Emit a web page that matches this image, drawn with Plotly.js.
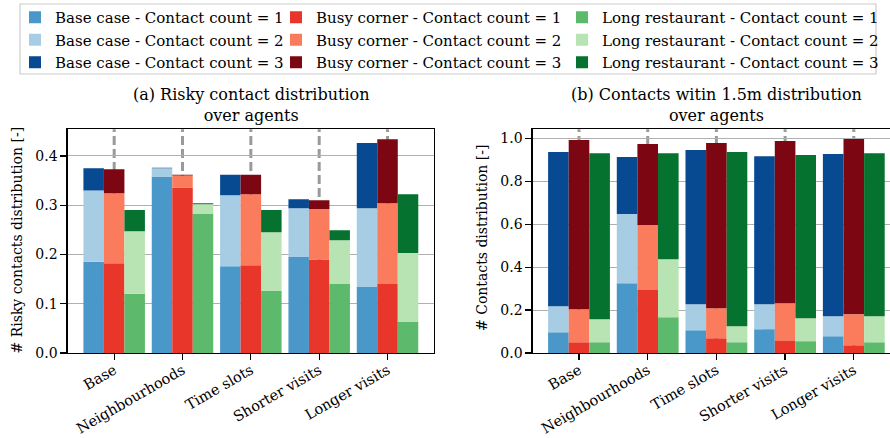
<!DOCTYPE html>
<html>
<head>
<meta charset="utf-8">
<script src="https://cdn.plot.ly/plotly-3.0.1.min.js"></script>
<style>html,body{margin:0;padding:0;background:#fff;}</style>
</head>
<body>
<div id="chart" style="width:890px;height:438px;"></div>
<script>
// ---- data ----
const categories = ['Base', 'Neighbourhoods', 'Time slots', 'Shorter visits', 'Longer visits'];
const scenarios = ['Base case', 'Busy corner', 'Long restaurant'];
const countLabels = ['1', '2', '3'];

// (a) Risky contact distribution over agents: share of agents per contact count
const riskyBase1 = [0.185, 0.357, 0.176, 0.195, 0.134];
const riskyBase2 = [0.145, 0.018, 0.144, 0.099, 0.160];
const riskyBase3 = [0.045, 0.001, 0.042, 0.018, 0.132];
const riskyBusy1 = [0.182, 0.336, 0.178, 0.190, 0.140];
const riskyBusy2 = [0.142, 0.024, 0.144, 0.102, 0.164];
const riskyBusy3 = [0.049, 0.002, 0.040, 0.018, 0.130];
const riskyLong1 = [0.120, 0.282, 0.126, 0.140, 0.063];
const riskyLong2 = [0.127, 0.020, 0.119, 0.089, 0.140];
const riskyLong3 = [0.043, 0.002, 0.045, 0.020, 0.119];

// (b) Contacts within 1.5m distribution over agents
const closeBase1 = [0.097, 0.325, 0.106, 0.111, 0.078];
const closeBase2 = [0.121, 0.322, 0.121, 0.116, 0.093];
const closeBase3 = [0.718, 0.266, 0.719, 0.690, 0.756];
const closeBusy1 = [0.050, 0.293, 0.069, 0.059, 0.036];
const closeBusy2 = [0.154, 0.303, 0.140, 0.173, 0.144];
const closeBusy3 = [0.788, 0.377, 0.769, 0.755, 0.817];
const closeLong1 = [0.050, 0.167, 0.050, 0.055, 0.050];
const closeLong2 = [0.107, 0.270, 0.075, 0.107, 0.121];
const closeLong3 = [0.774, 0.494, 0.811, 0.760, 0.760];

const riskyTicks = [0, 0.1, 0.2, 0.3, 0.4];
const closeTicks = [0, 0.2, 0.4, 0.6, 0.8, 1.0];

// ---- styling ----
const colors = [
  ['#4a98c9', '#a7cde4', '#084a91'],
  ['#e8362a', '#fb7c5c', '#7c0612'],
  ['#5db96b', '#b8e3b2', '#067230']
];
const offsets = [-0.45, -0.15, 0.15];
const barWidth = 0.3;
const FONT = 'DejaVu Serif';

const riskyData = [[riskyBase1, riskyBase2, riskyBase3], [riskyBusy1, riskyBusy2, riskyBusy3], [riskyLong1, riskyLong2, riskyLong3]];
const closeData = [[closeBase1, closeBase2, closeBase3], [closeBusy1, closeBusy2, closeBusy3], [closeLong1, closeLong2, closeLong3]];

const traces = [];
function addPanel(data, xa, ya, showLegend) {
  data.forEach((series, s) => {
    let base = categories.map(() => 0);
    series.forEach((vals, c) => {
      traces.push({
        type: 'bar',
        x: categories,
        y: vals,
        base: base.slice(),
        offset: offsets[s],
        width: barWidth,
        xaxis: xa, yaxis: ya,
        marker: {color: colors[s][c], line: {width: 0}},
        name: scenarios[s] + ' - Contact count = ' + countLabels[c],
        legendgroup: scenarios[s] + c,
        legend: ['legend', 'legend2', 'legend3'][s],
        showlegend: showLegend,
        hoverinfo: 'name+y'
      });
      base = base.map((b, i) => b + vals[i]);
    });
  });
}
addPanel(riskyData, 'x', 'y', true);
addPanel(closeData, 'x2', 'y2', false);

const W = 890, H = 438;
const px = v => v / W;
const py = v => (H - v) / H;

const shapes = [];
['x', 'x2'].forEach((xr, k) => {
  categories.forEach(c => {
    shapes.push({type: 'line', xref: xr, yref: (k === 0 ? 'y' : 'y2') + ' domain',
      x0: c, x1: c, y0: 0, y1: 1, layer: 'below',
      line: {color: '#9a9a9a', width: 3, dash: '9px,4px'}});
  });
});
// legend frame
shapes.push({type: 'rect', xref: 'paper', yref: 'paper', x0: px(20), x1: px(876), y0: py(4), y1: py(74),
  line: {color: '#cccccc', width: 1.2}, fillcolor: 'rgba(255,255,255,0.8)', layer: 'below'});

const axisCommon = {
  showline: true, linecolor: '#000', linewidth: 1.3,
  ticks: 'outside', ticklen: 6, tickwidth: 1.2, tickcolor: '#000',
  tickfont: {family: FONT, size: 14, color: '#000'},
  zeroline: false, fixedrange: true
};
const yDomain = [py(353), py(129.3)];

const legendCommon = {
  yanchor: 'top', xanchor: 'left', y: py(1),
  bgcolor: 'rgba(0,0,0,0)', borderwidth: 0,
  font: {family: FONT, size: 15, color: '#000'},
  tracegroupgap: 0, traceorder: 'grouped', orientation: 'v'
};

const layout = {
  width: W, height: H,
  margin: {l: 0, r: 0, t: 0, b: 0},
  paper_bgcolor: '#fff', plot_bgcolor: '#fff',
  barmode: 'overlay',
  font: {family: FONT, size: 14, color: '#000'},
  showlegend: true,
  legend: Object.assign({}, legendCommon, {x: px(15)}),
  legend2: Object.assign({}, legendCommon, {x: px(276)}),
  legend3: Object.assign({}, legendCommon, {x: px(562)}),
  xaxis: Object.assign({}, axisCommon, {
    domain: [px(67.7), px(434)], anchor: 'y', type: 'category',
    categoryorder: 'array', categoryarray: categories,
    range: [-0.68, 4.68], tickangle: -30, showgrid: false, mirror: true,
    tickfont: {family: FONT, size: 14.5, color: '#000'}, ticklabelstandoff: -4
  }),
  yaxis: Object.assign({}, axisCommon, {
    domain: yDomain, anchor: 'x', range: [0, 0.454],
    tickvals: riskyTicks, tickformat: '.1f',
    showgrid: true, gridcolor: '#b0b0b0', gridwidth: 1, mirror: true
  }),
  xaxis2: Object.assign({}, axisCommon, {
    domain: [px(532.7), 1], anchor: 'y2', type: 'category',
    categoryorder: 'array', categoryarray: categories,
    range: [-0.674, 4.527], tickangle: -30, showgrid: false, mirror: true,
    tickfont: {family: FONT, size: 14.5, color: '#000'}, ticklabelstandoff: -4
  }),
  yaxis2: Object.assign({}, axisCommon, {
    domain: yDomain, anchor: 'x2', range: [0, 1.042],
    tickvals: closeTicks, tickformat: '.1f',
    showgrid: true, gridcolor: '#b0b0b0', gridwidth: 1, mirror: false
  }),
  shapes: shapes,
  annotations: [
    {text: '(a) Risky contact distribution<br>over agents', xref: 'paper', yref: 'paper',
     x: px(251), y: py(104.5), xanchor: 'center', yanchor: 'middle', showarrow: false,
     font: {family: FONT, size: 16, color: '#000'}},
    {text: '(b) Contacts witin 1.5m distribution<br>over agents', xref: 'paper', yref: 'paper',
     x: px(716), y: py(104.5), xanchor: 'center', yanchor: 'middle', showarrow: false,
     font: {family: FONT, size: 16, color: '#000'}},
    {text: '# Risky contacts distribution [-]', xref: 'paper', yref: 'paper',
     x: px(16.5), y: py(240), xanchor: 'center', yanchor: 'middle', showarrow: false,
     textangle: -90, font: {family: FONT, size: 14, color: '#000'}},
    {text: '# Contacts distribution [-]', xref: 'paper', yref: 'paper',
     x: px(482), y: py(238), xanchor: 'center', yanchor: 'middle', showarrow: false,
     textangle: -90, font: {family: FONT, size: 14, color: '#000'}}
  ]
};

Plotly.newPlot('chart', traces, layout, {staticPlot: true, displayModeBar: false});
</script>
</body>
</html>
